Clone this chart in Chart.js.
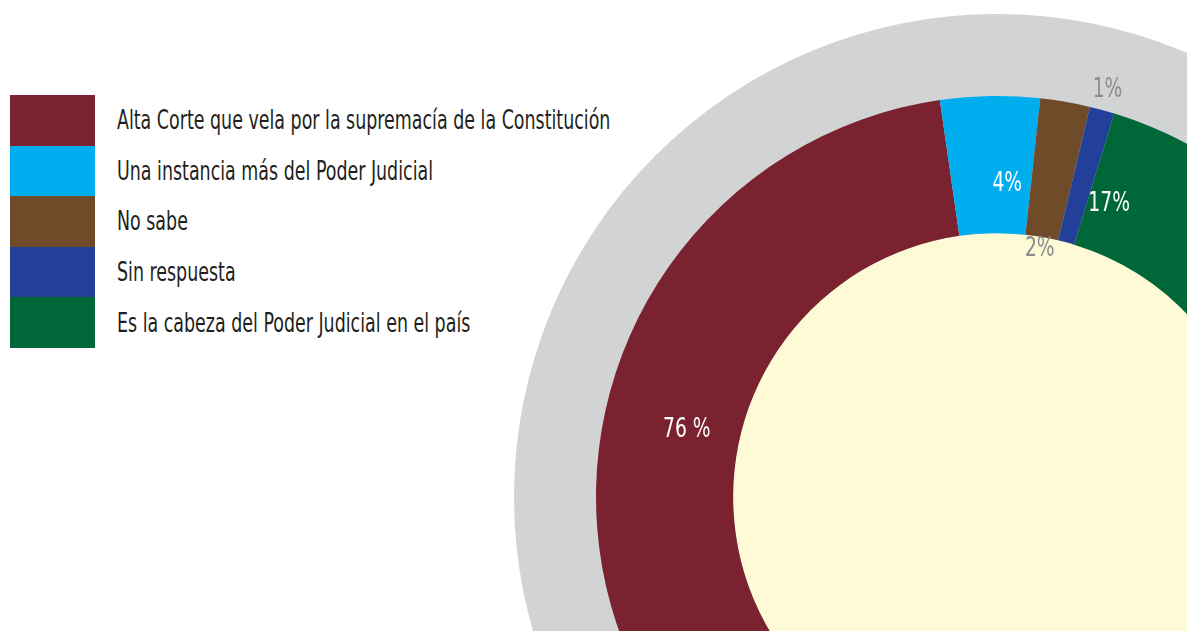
<!DOCTYPE html>
<html lang="es">
<head>
<meta charset="utf-8">
<script src="https://cdn.jsdelivr.net/npm/chart.js@4"></script>
<style>
  html, body { margin: 0; padding: 0; background: #fff; }
  body { width: 1187px; height: 631px; overflow: hidden; position: relative; font-family: "Liberation Sans Narrow", "DejaVu Sans Condensed", "Roboto", sans-serif; }
  #legend { position: absolute; left: 10px; top: 95px; }
  .leg-row { display: flex; align-items: center; height: 50.6px; }
  .leg-box { width: 85px; height: 100%; flex: none; }
  .leg-text { margin-left: 22px; font-size: 26px; color: #231f20; white-space: nowrap; transform-origin: left center; transform: scaleX(0.746); }
  #chart-wrap { position: absolute; left: 514px; top: 14px; width: 966px; height: 966px; }
</style>
</head>
<body>
<div id="legend"></div>
<div id="chart-wrap"><canvas id="chart-donut"></canvas></div>
<script>
  const CATEGORIES = [
    "Alta Corte que vela por la supremacía de la Constitución",
    "Una instancia más del Poder Judicial",
    "No sabe",
    "Sin respuesta",
    "Es la cabeza del Poder Judicial en el país",
  ];
  const VALUES = [76, 4, 2, 1, 17];
  const COLORS = ["#7a2230", "#00aeef", "#704b29", "#22409a", "#006838"];
  const LABEL_SUFFIX = [" %", "%", "%", "%", "%"];

  // label look/placement (fraction along the arc, fraction across the ring)
  const LABEL_COLORS = ["#ffffff", "#ffffff", "#8a8c8e", "#8a8c8e", "#ffffff"];
  const LABEL_ALONG = [0.7456, 0.7, 0.5, 0.5, 0.065];
  const LABEL_ACROSS = [0.39, 0.36, -0.09, 1.15, 0.36];

  const RING_GRAY = "#d1d3d4";
  const CREAM = "#fffad6";
  const GRAY_WIDTH = 82;
  const FONT = '"Liberation Sans Narrow", "DejaVu Sans Condensed", "Roboto", sans-serif';

  function buildLegend() {
    const el = document.getElementById("legend");
    el.innerHTML = CATEGORIES.map((c, i) => `
      <div class="leg-row">
        <div class="leg-box" style="background:${COLORS[i]}"></div>
        <span class="leg-text">${c}</span>
      </div>`).join("");
  }

  const ringsPlugin = {
    id: "rings",
    beforeDatasetsDraw(chart) {
      const arc = chart.getDatasetMeta(0).data[0];
      if (!arc) return;
      const { x, y, outerRadius, innerRadius } = arc.getProps(["x", "y", "outerRadius", "innerRadius"], true);
      const ctx = chart.ctx;
      ctx.save();
      ctx.fillStyle = RING_GRAY;
      ctx.beginPath();
      ctx.arc(x, y, outerRadius + GRAY_WIDTH, 0, Math.PI * 2);
      ctx.fill();
      ctx.fillStyle = CREAM;
      ctx.beginPath();
      ctx.arc(x, y, innerRadius, 0, Math.PI * 2);
      ctx.fill();
      ctx.restore();
    },
    afterDatasetsDraw(chart) {
      const ctx = chart.ctx;
      const ds = chart.data.datasets[0];
      ctx.save();
      ctx.font = `26px ${FONT}`;
      ctx.textAlign = "center";
      ctx.textBaseline = "middle";
      chart.getDatasetMeta(0).data.forEach((arc, i) => {
        const p = arc.getProps(["x", "y", "startAngle", "endAngle", "outerRadius", "innerRadius"], true);
        const a = p.startAngle + (p.endAngle - p.startAngle) * LABEL_ALONG[i];
        const r = p.innerRadius + (p.outerRadius - p.innerRadius) * LABEL_ACROSS[i];
        ctx.save();
        ctx.translate(p.x + r * Math.cos(a), p.y + r * Math.sin(a));
        ctx.scale(0.8, 1);
        ctx.fillStyle = LABEL_COLORS[i];
        ctx.fillText(`${ds.data[i]}${LABEL_SUFFIX[i]}`, 0, 0);
        ctx.restore();
      });
      ctx.restore();
    },
  };

  buildLegend();

  new Chart(document.getElementById("chart-donut"), {
    type: "doughnut",
    data: {
      labels: CATEGORIES,
      datasets: [{ data: VALUES, backgroundColor: COLORS, borderWidth: 0 }],
    },
    options: {
      responsive: true,
      maintainAspectRatio: false,
      animation: false,
      rotation: 78.2,
      cutout: "65.8%",
      layout: { padding: GRAY_WIDTH },
      plugins: { legend: { display: false }, tooltip: { enabled: false } },
    },
    plugins: [ringsPlugin],
  });
</script>
</body>
</html>
